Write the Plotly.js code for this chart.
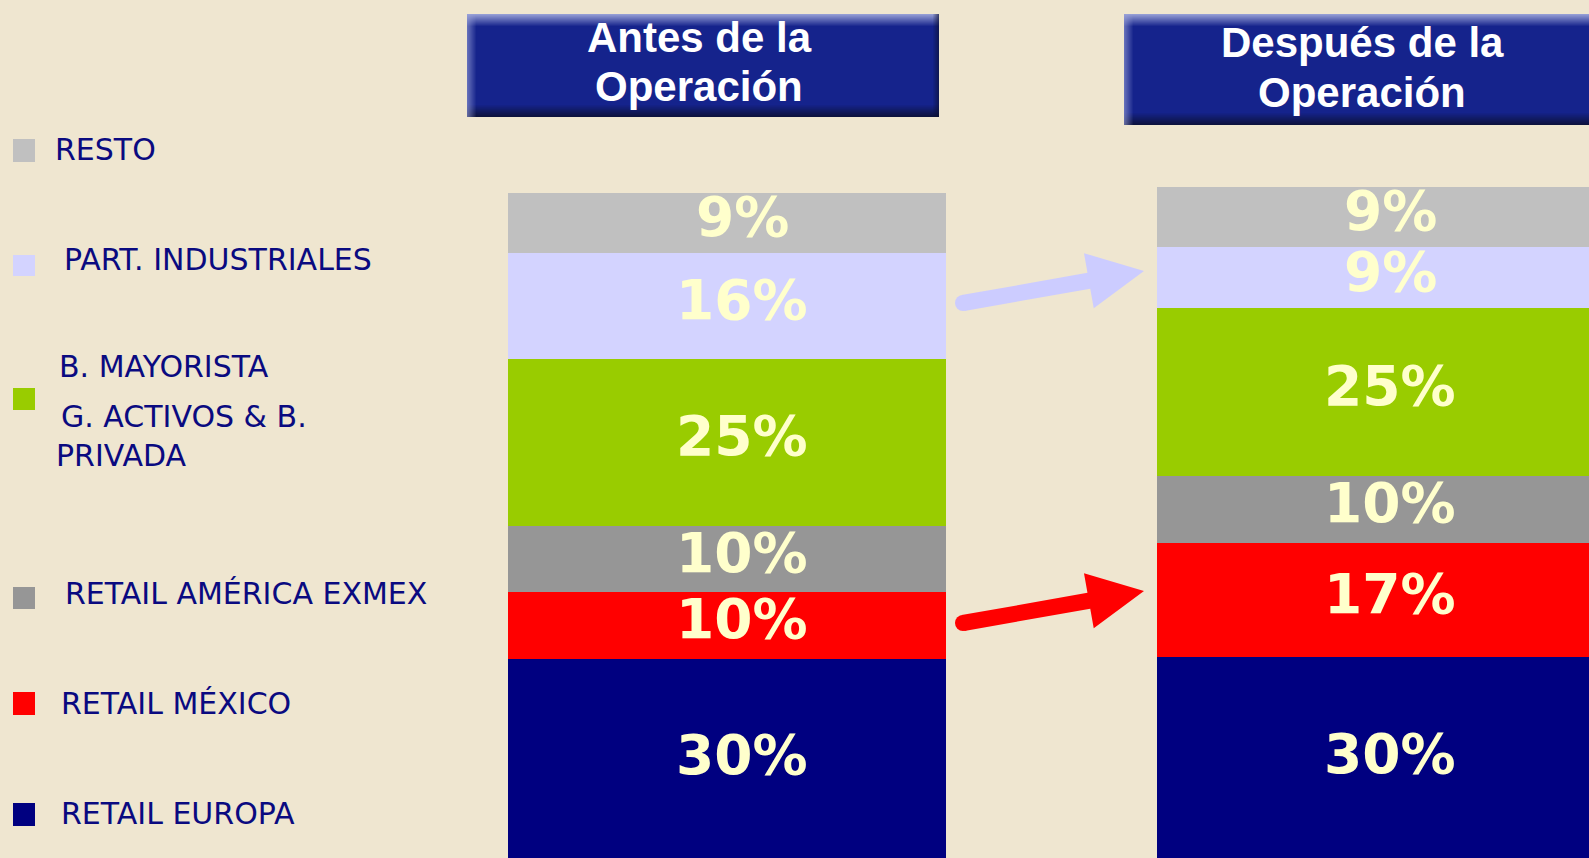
<!DOCTYPE html>
<html>
<head>
<meta charset="utf-8">
<script src="https://cdn.plot.ly/plotly-3.0.1.min.js"></script>
<style>html,body{margin:0;padding:0;background:#efe6d0;}#chart{width:1589px;height:858px;}</style>
</head>
<body>
<div id="chart"></div>
<script>
// ---- data ----
const categories = ['Antes de la Operación', 'Después de la Operación'];
const seriesNames = ['RETAIL EUROPA', 'RETAIL MÉXICO', 'RETAIL AMÉRICA EXMEX', 'B. MAYORISTA / G. ACTIVOS & B. PRIVADA', 'PART. INDUSTRIALES', 'RESTO'];
const retailEuropa = [30, 30];
const retailMexico = [10, 17];
const retailAmerica = [10, 10];
const mayorista = [25, 25];
const partIndustriales = [16, 9];
const resto = [9, 9];
const legendLabels = ['RESTO', 'PART. INDUSTRIALES', 'B. MAYORISTA', 'G. ACTIVOS & B.', 'PRIVADA', 'RETAIL AMÉRICA EXMEX', 'RETAIL MÉXICO', 'RETAIL EUROPA'];

const W = 1589, H = 858;
const px = x => x / W;
const py = y => 1 - y / H;

const seriesValues = [retailEuropa, retailMexico, retailAmerica, mayorista, partIndustriales, resto];
const seriesColors = ['#000080', '#ff0000', '#969696', '#99cc00', '#d3d3ff', '#c0c0c0'];

const traces = [];
const annotations = [];
const axes = [['x', 'y', 15], ['x2', 'y2', 17]];
categories.forEach((cat, ci) => {
  let cum = 0;
  seriesValues.forEach((vals, si) => {
    const v = vals[ci];
    traces.push({
      type: 'bar', x: [cat], y: [v], width: 1,
      name: seriesNames[si],
      marker: {color: seriesColors[si], line: {width: 0}},
      xaxis: axes[ci][0], yaxis: axes[ci][1], hoverinfo: 'skip'
    });
    annotations.push({
      xref: axes[ci][0], yref: axes[ci][1], x: cat, y: cum + v / 2,
      text: v + '%', showarrow: false, xshift: axes[ci][2], yshift: si === 0 ? 3 : 6,
      xanchor: 'center', yanchor: 'middle',
      font: {family: 'DejaVu Sans', size: 55, color: '#ffffcc', weight: 'bold'}
    });
    cum += v;
  });
});

// headers
const hdrFont = {family: 'Liberation Sans, Arial', size: 42, color: '#ffffff', weight: 'bold'};
[['Antes de la', 699, 37], ['Operación', 699, 87], ['Después de la', 1362, 42], ['Operación', 1362, 93]].forEach(h => {
  annotations.push({xref: 'paper', yref: 'paper', x: px(h[1]), y: py(h[2]), text: h[0], showarrow: false,
    xanchor: 'center', yanchor: 'middle', font: hdrFont});
});

// legend texts
const legFont = {family: 'DejaVu Sans', size: 30, color: '#0a0a80'};
const legPos = [[53, 150], [62, 260], [57, 366], [59, 416], [54, 455], [63, 593], [59, 703], [59, 813]];
legendLabels.forEach((t, i) => {
  annotations.push({xref: 'paper', yref: 'paper', x: px(legPos[i][0]), y: py(legPos[i][1]), text: t,
    showarrow: false, xanchor: 'left', yanchor: 'middle', font: legFont});
});

const shapes = [];
function rect(x0, y0, x1, y1, color, opacity) {
  shapes.push({type: 'rect', xref: 'paper', yref: 'paper', x0: px(x0), x1: px(x1), y0: py(y1), y1: py(y0),
    fillcolor: color, opacity: opacity === undefined ? 1 : opacity, line: {width: 0}, layer: 'above'});
}
function headerBox(x0, y0, x1, y1) {
  rect(x0, y0, x1, y1, '#15238c');
  for (let i = 0; i < 12; i++) rect(x0, y0 + i, x1, y0 + i + 1, '#b4bbe6', 0.8 * (1 - i / 12));
  for (let i = 0; i < 12; i++) rect(x0, y1 - i - 1, x1, y1 - i, '#0c1030', 0.85 * (1 - i / 12));
  for (let i = 0; i < 9; i++) rect(x0 + i, y0, x0 + i + 1, y1, '#9aa2d8', 0.6 * (1 - i / 9));
  for (let i = 0; i < 6; i++) rect(x1 - i - 1, y0, x1 - i, y1, '#0c1030', 0.6 * (1 - i / 6));
}
headerBox(467, 14, 939, 117);
headerBox(1124, 14, 1600, 125);

// legend squares
const sqColors = ['#c0c0c0', '#d3d3ff', '#99cc00', '#969696', '#ff0000', '#000080'];
const sqPos = [[139, 162], [255, 276], [388, 410], [587, 609], [692, 715], [803, 826]];
sqPos.forEach((p, i) => rect(13, p[0], 35, p[1], sqColors[i]));

// arrows
function arrow(tx, ty, hx, hy, color) {
  const dx = hx - tx, dy = hy - ty, L = Math.hypot(dx, dy);
  const ux = dx / L, uy = dy / L, nx = -uy, ny = ux;
  const hw = 8, headLen = 56, headHw = 28;
  const bx = hx - ux * headLen, by = hy - uy * headLen;
  const pts = [
    [tx - nx * hw, ty - ny * hw], [bx - nx * hw, by - ny * hw], [bx - nx * headHw, by - ny * headHw],
    [hx, hy], [bx + nx * headHw, by + ny * headHw], [bx + nx * hw, by + ny * hw], [tx + nx * hw, ty + ny * hw]
  ];
  const path = 'M ' + pts.map(p => px(p[0]) + ',' + py(p[1])).join(' L ') + ' Z';
  shapes.push({type: 'path', xref: 'paper', yref: 'paper', path: path, fillcolor: color, line: {width: 0}, layer: 'above'});
  shapes.push({type: 'circle', xref: 'paper', yref: 'paper', x0: px(tx - hw), x1: px(tx + hw), y0: py(ty + hw), y1: py(ty - hw),
    fillcolor: color, line: {width: 0}, layer: 'above'});
}
arrow(963, 303, 1144, 271, '#ccccff');
arrow(963, 623, 1144, 591, '#ff0000');

const layout = {
  width: W, height: H,
  margin: {l: 0, r: 0, t: 0, b: 0, pad: 0},
  paper_bgcolor: '#efe6d0', plot_bgcolor: 'rgba(0,0,0,0)',
  barmode: 'stack', bargap: 0, showlegend: false,
  xaxis: {domain: [px(508), px(946)], range: [-0.5, 0.5], visible: false, fixedrange: true, anchor: 'y'},
  yaxis: {domain: [0, py(193)], range: [0, 100], visible: false, fixedrange: true, anchor: 'x'},
  xaxis2: {domain: [px(1157), 1], range: [-0.5, 0.5], visible: false, fixedrange: true, anchor: 'y2'},
  yaxis2: {domain: [0, py(187)], range: [0, 100], visible: false, fixedrange: true, anchor: 'x2'},
  annotations: annotations,
  shapes: shapes
};
Plotly.newPlot('chart', traces, layout, {displayModeBar: false, staticPlot: true});
</script>
</body>
</html>
